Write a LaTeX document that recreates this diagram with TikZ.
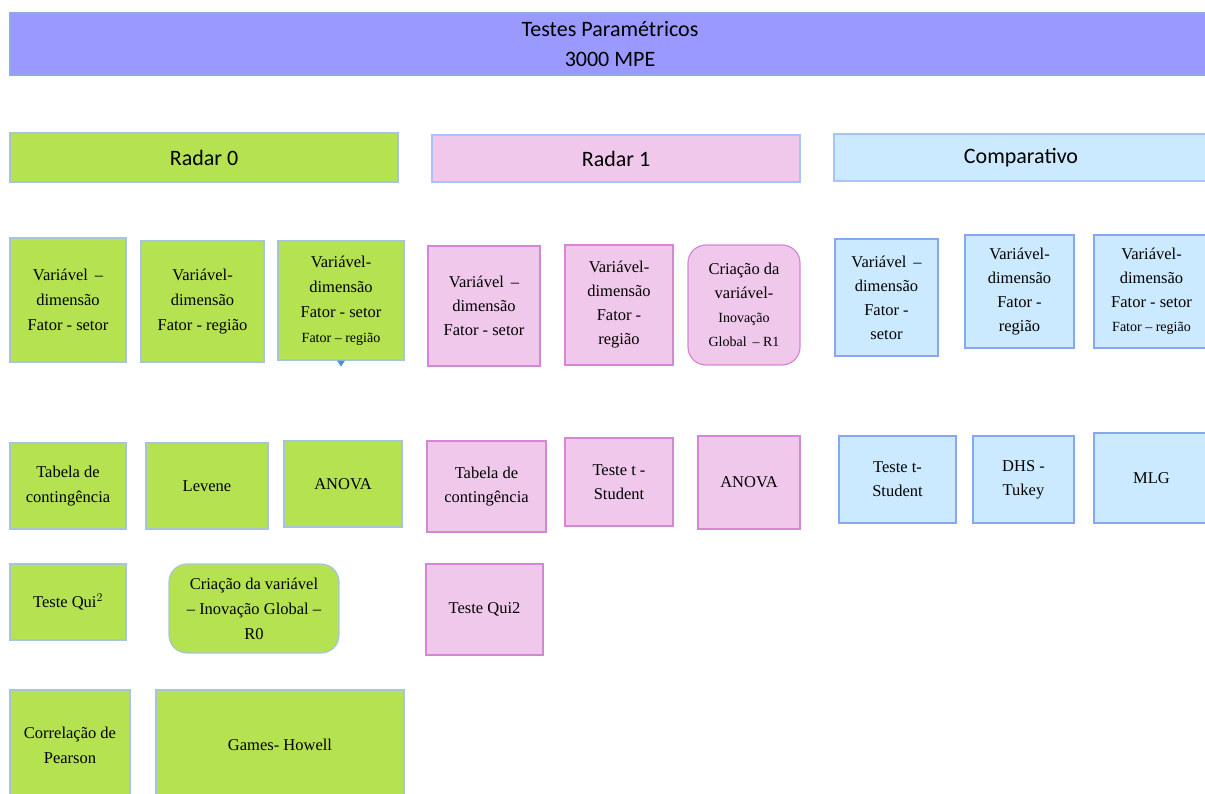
\documentclass[tikz,border=0pt]{standalone}
\usepackage{fontspec}
\setmainfont{Liberation Serif}
\newfontfamily\calibri{Carlito}
\usetikzlibrary{calc}
\definecolor{headblue}{HTML}{9999FF}
\definecolor{headline}{HTML}{8FA9E6}
\definecolor{radargreen}{HTML}{B4E250}
\definecolor{radarpink}{HTML}{F0C8EC}
\definecolor{compblue}{HTML}{CCEAFF}
\definecolor{greenline}{HTML}{A8C4DC}
\definecolor{pinkline}{HTML}{D487D4}
\definecolor{blueline}{HTML}{86A8F0}
\definecolor{markblue}{HTML}{4F8FE0}
\tikzset{
  headbar/.style={
    draw=headline,
    fill=headblue,
    line width=1.2pt,
    inner sep=0pt,
    align=center,
    font=\calibri\fontsize{22}{30}\selectfont
  },
  secbar/.style={
    line width=1.2pt,
    inner sep=0pt,
    align=center,
    font=\calibri\fontsize{22}{24}\selectfont
  },
  greenbox/.style={
    draw=greenline,
    fill=radargreen,
    line width=1.2pt,
    inner sep=0pt,
    align=center,
    font=\fontsize{16.5}{25}\selectfont
  },
  pinkbox/.style={
    draw=pinkline,
    fill=radarpink,
    line width=1.2pt,
    inner sep=0pt,
    align=center,
    font=\fontsize{16.5}{24}\selectfont
  },
  bluebox/.style={
    draw=blueline,
    fill=compblue,
    line width=1.2pt,
    inner sep=0pt,
    align=center,
    font=\fontsize{16.5}{24}\selectfont
  },
  roundbox/.style={rounded corners=18pt}
}
\newcommand{\smalltext}[1]{{\fontsize{14}{22}\selectfont #1}}

\begin{document}
\begin{tikzpicture}[x=1pt,y=-1pt]
  \useasboundingbox (0,0) rectangle (1205,793);
  \clip (0,0) rectangle (1205,793);

  % title bar
  \node[headbar, minimum width=1200, minimum height=62] (title) at (610,44) {Testes Paramétricos\\3000 MPE};

  % section bars
  \node[secbar, draw=greenline, fill=radargreen, minimum width=388, minimum height=49] (radar0) at (204,157.5) {Radar 0};
  \node[secbar, draw=blueline!70, fill=radarpink, minimum width=368, minimum height=47] (radar1) at (616,158.5) {Radar 1};
  \node[secbar, draw=blueline!70, fill=compblue, minimum width=374, minimum height=47] (comp) at (1021,157.5) {Comparativo};

  % Radar 0
  \node[greenbox, minimum width=116, minimum height=124] (r0var1) at (68,300) {Variável \,–\\dimensão\\Fator - setor};
  \node[greenbox, minimum width=123, minimum height=121] (r0var2) at (202.5,301.5) {Variável-\\dimensão\\Fator - região};
  \node[greenbox, minimum width=126, minimum height=119] (r0var3) at (341,300.5) {Variável-\\dimensão\\Fator - setor\\\smalltext{Fator – região}};
  \fill[markblue] ($(r0var3.south)+(-4,0)$) -- ($(r0var3.south)+(4,0)$) -- ($(r0var3.south)+(0,6)$) -- cycle;

  \node[greenbox, minimum width=116, minimum height=86] (r0tab) at (68,486) {Tabela de\\contingência};
  \node[greenbox, minimum width=122, minimum height=86] (r0lev) at (207,486) {Levene};
  \node[greenbox, minimum width=118, minimum height=86] (r0anova) at (343,484) {ANOVA};
  \node[greenbox, minimum width=116, minimum height=76] (r0qui) at (68,602) {Teste Qui$^{2}$};
  \node[greenbox, roundbox, minimum width=170, minimum height=89] (r0glob) at (254,608.5) {Criação da variável\\– Inovação Global –\\R0};
  \node[greenbox, minimum width=120, minimum height=110] (r0pear) at (70,745) {Correlação de\\Pearson};
  \node[greenbox, minimum width=248, minimum height=110] (r0games) at (280,745) {Games- Howell};

  % Radar 1
  \node[pinkbox, minimum width=112, minimum height=120] (r1var1) at (484,306) {Variável \,–\\dimensão\\Fator - setor};
  \node[pinkbox, minimum width=108, minimum height=120] (r1var2) at (619,305) {Variável-\\dimensão\\Fator -\\região};
  \node[pinkbox, roundbox, minimum width=112, minimum height=120] (r1glob) at (744,305) {Criação da\\variável-\\\smalltext{Inovação}\\\smalltext{Global \,– R1}};

  \node[pinkbox, minimum width=119, minimum height=91] (r1tab) at (486.5,486.5) {Tabela de\\contingência};
  \node[pinkbox, minimum width=108, minimum height=88] (r1stud) at (619,482) {Teste t -\\Student};
  \node[pinkbox, minimum width=102, minimum height=93] (r1anova) at (749,482.5) {ANOVA};
  \node[pinkbox, minimum width=117, minimum height=91] (r1qui) at (484.5,609.5) {Teste Qui2};

  % Comparativo
  \node[bluebox, minimum width=103, minimum height=117] (cpvar1) at (886.5,297.5) {Variável \,–\\dimensão\\Fator -\\setor};
  \node[bluebox, minimum width=109, minimum height=113] (cpvar2) at (1019.5,291.5) {Variável-\\dimensão\\Fator -\\região};
  \node[bluebox, minimum width=115, minimum height=113] (cpvar3) at (1151.5,291.5) {Variável-\\dimensão\\Fator - setor\\\smalltext{Fator – região}};

  \node[bluebox, minimum width=117, minimum height=87] (cpstud) at (897.5,479.5) {Teste t-\\Student};
  \node[bluebox, minimum width=101, minimum height=87] (cptukey) at (1023.5,479.5) {DHS -\\Tukey};
  \node[bluebox, minimum width=115, minimum height=90] (cpmlg) at (1151.5,478) {MLG};
\end{tikzpicture}
\end{document}
